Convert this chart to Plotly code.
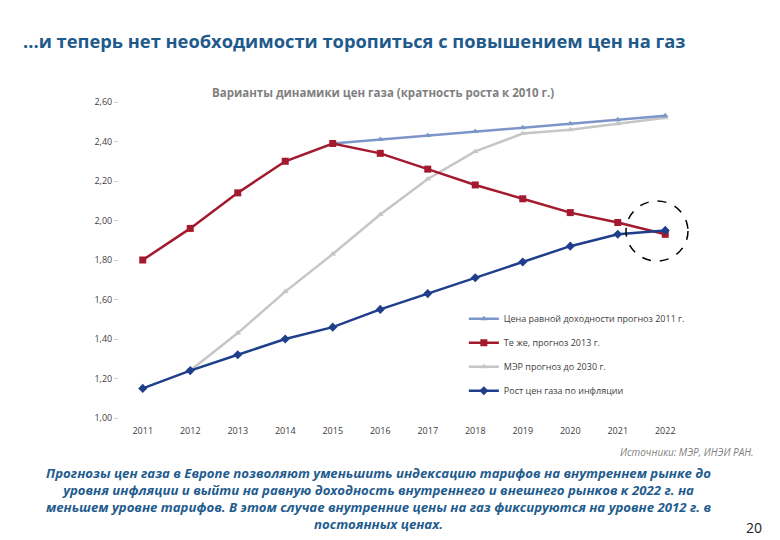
import plotly.graph_objects as go

years = [2011, 2012, 2013, 2014, 2015, 2016, 2017, 2018, 2019, 2020, 2021, 2022]
equal_yield_2011 = [None, None, None, None, 2.39, 2.41, 2.43, 2.45, 2.47, 2.49, 2.51, 2.53]
same_2013 = [1.80, 1.96, 2.14, 2.30, 2.39, 2.34, 2.26, 2.18, 2.11, 2.04, 1.99, 1.93]
mer_2030 = [None, 1.24, 1.43, 1.64, 1.83, 2.03, 2.21, 2.35, 2.44, 2.46, 2.49, 2.52]
inflation = [1.15, 1.24, 1.32, 1.40, 1.46, 1.55, 1.63, 1.71, 1.79, 1.87, 1.93, 1.95]

names = ["Цена равной доходности прогноз 2011 г.", "Те же, прогноз 2013 г.",
         "МЭР прогноз до 2030 г.", "Рост цен газа по инфляции"]
colors = ["#7b96c8", "#a3192d", "#c6c6c6", "#1f3f8c"]
symbols = ["triangle-up", "square", "triangle-up", "diamond"]
sizes = [6, 7, 6, 7]
series = [equal_yield_2011, same_2013, mer_2030, inflation]

fig = go.Figure()
order = [2, 0, 1, 3]
for i in order:
    fig.add_trace(go.Scatter(
        x=years, y=series[i], name=names[i], mode="lines+markers",
        line=dict(color=colors[i], width=2.5),
        marker=dict(symbol=symbols[i], size=sizes[i], color=colors[i]),
        legendgroup=str(i), legendrank=i + 1, connectgaps=False,
    ))

PW, PH = 570, 316
fig.update_layout(
    width=772, height=532,
    margin=dict(l=111, r=91, t=94, b=122),
    paper_bgcolor="white", plot_bgcolor="white",
    separators=", ",
    font=dict(family="Open Sans, sans-serif", color="#404040"),
    showlegend=True,
    legend=dict(x=0.605, y=0.36, xanchor="left", yanchor="top",
                font=dict(size=9, color="#404040"), tracegroupgap=5,
                traceorder="grouped", bgcolor="rgba(0,0,0,0)", itemwidth=30),
    xaxis=dict(range=[2010.5, 2022.5], tickmode="array", tickvals=years,
               ticktext=[str(y) for y in years], showgrid=False, zeroline=False,
               showline=False, tickfont=dict(size=9, color="#404040"), ticks="",
               ticklabelstandoff=6),
    yaxis=dict(range=[1.0, 2.6], dtick=0.2, tickformat=".2f", showgrid=False,
               zeroline=False, showline=False, ticks="outside", ticklen=4,
               tickcolor="#d0d0d0", tickfont=dict(size=9, color="#404040")),
)

# screen coords (reference) -> paper coords; page has an 8px body offset
def px(x):
    return (x - 119) / PW

def py(y):
    return (418 - y) / PH

# dashed circle highlighting convergence point
fig.add_shape(type="circle", xref="paper", yref="paper",
              x0=px(626), x1=px(688), y0=py(261), y1=py(201),
              line=dict(color="black", width=1.5, dash="dash"))

fig.add_annotation(text="...и теперь нет необходимости торопиться с повышением цен на газ",
                   xref="paper", yref="paper", x=px(21), y=py(40),
                   xanchor="left", yanchor="middle", showarrow=False,
                   font=dict(size=18.3, color="#1f5a8c", family="Open Sans, sans-serif", weight="bold"))
fig.add_annotation(text="<b>Варианты динамики цен газа (кратность роста к 2010 г.)</b>",
                   xref="paper", yref="paper", x=px(383), y=py(92),
                   xanchor="center", yanchor="middle", showarrow=False,
                   font=dict(size=11.5, color="#7f7f7f"))
fig.add_annotation(text="<i>Источники: МЭР, ИНЭИ РАН.</i>",
                   xref="paper", yref="paper", x=px(756), y=py(452),
                   xanchor="right", yanchor="middle", showarrow=False,
                   font=dict(size=10, color="#7f7f7f"))
fig.add_annotation(text="<b><i>Прогнозы цен газа в Европе позволяют уменьшить индексацию тарифов на внутреннем рынке до<br>"
                        "уровня инфляции и выйти на равную доходность внутреннего и внешнего рынков к 2022 г. на<br>"
                        "меньшем уровне тарифов. В этом случае внутренние цены на газ фиксируются на уровне 2012 г. в<br>"
                        "постоянных ценах.</i></b>",
                   xref="paper", yref="paper", x=px(378), y=py(498),
                   xanchor="center", yanchor="middle", showarrow=False, align="center",
                   font=dict(size=13.2, color="#1f5c8e"))
fig.add_annotation(text="20", xref="paper", yref="paper",
                   x=px(764), y=py(527),
                   xanchor="right", yanchor="middle", showarrow=False,
                   font=dict(size=14, color="#222222"))

fig.write_html("out.html")
